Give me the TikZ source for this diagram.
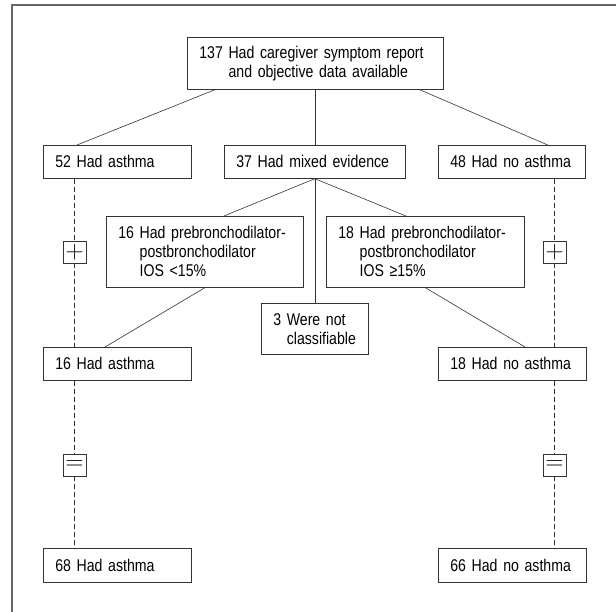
\documentclass[tikz,border=0pt]{standalone}
\usepackage{fontspec}
\setmainfont{Liberation Sans}[FakeStretch=0.83]
\newcommand{\numgap}[1]{\phantom{#1}\ }

\begin{document}
\begin{tikzpicture}[x=1pt, y=-1pt,
    flowbox/.style={draw=black!80, line width=0.7pt, rectangle, anchor=north west, align=left,
        inner xsep=12pt, inner ysep=0pt, font=\fontsize{17}{19}\selectfont},
    signbox/.style={draw=black!80, line width=0.6pt, minimum width=23pt, minimum height=22pt,
        inner sep=0pt, font=\fontsize{24}{24}\selectfont},
    link/.style={draw=black!80, line width=0.6pt},
    dashlink/.style={link, dash pattern=on 5pt off 3pt}]
    \useasboundingbox (0,0) rectangle (616,612);
    \draw[black!60, line width=1.5pt] (616,5) -- (12,5) -- (12,612);

    % ===== top and first split =====
    \node[flowbox, text width=232pt, minimum height=52pt] (report) at (187,37)
        {137 Had caregiver symptom report\\ \numgap{137}and objective data available};
    \node[flowbox, text width=124pt, minimum height=33pt] (asthA) at (43,145) {52 Had asthma};
    \node[flowbox, text width=157pt, minimum height=33pt] (mixed) at (224,145) {37 Had mixed evidence};
    \node[flowbox, text width=123pt, minimum height=33pt] (noasthA) at (438,145) {48 Had no asthma};

    \draw[link] ([xshift=28pt]report.south west) -- ([xshift=34pt]asthA.north west);
    \draw[link] (report.south -| mixed.north) -- (mixed.north);
    \draw[link] ([xshift=-24pt]report.south east) -- ([xshift=-38pt]noasthA.north east);

    % ===== mixed evidence =====
    \node[flowbox, text width=173pt, minimum height=71pt] (iosLow) at (106,216)
        {16 Had prebronchodilator-\\ \numgap{16}postbronchodilator\\ \numgap{16}IOS <15\%};
    \node[flowbox, text width=174pt, minimum height=71pt] (iosHigh) at (326,216)
        {18 Had prebronchodilator-\\ \numgap{18}postbronchodilator\\ \numgap{18}IOS ≥15\%};
    \node[flowbox, text width=83pt, minimum height=51pt] (unclass) at (261,303)
        {3 Were not\\ \numgap{3}classifiable};

    \draw[link] (mixed.south) -- ([xshift=118pt]iosLow.north west);
    \draw[link] (mixed.south) -- ([xshift=80pt]iosHigh.north west);
    \draw[link] (mixed.south) -- (mixed.south |- unclass.north);

    \node[flowbox, text width=124pt, minimum height=33pt] (asthB) at (43,347) {16 Had asthma};
    \node[flowbox, text width=124pt, minimum height=33pt] (noasthB) at (438,347) {18 Had no asthma};
    \draw[link] (iosLow.south) -- ([xshift=62pt]asthB.north west);
    \draw[link] (iosHigh.south) -- ([xshift=87pt]noasthB.north west);

    % ===== totals =====
    \node[flowbox, text width=124pt, minimum height=34pt] (asthC) at (43,548) {68 Had asthma};
    \node[flowbox, text width=124pt, minimum height=34pt] (noasthC) at (438,548) {66 Had no asthma};

    \node[signbox] (plusL) at (74.5,252) {$+$};
    \node[signbox] (plusR) at (554.5,252) {$+$};
    \node[signbox] (eqL) at (74.5,465) {$=$};
    \node[signbox] (eqR) at (554.5,465) {$=$};

    \draw[dashlink] (plusL |- asthA.south) -- (plusL.north);
    \draw[dashlink] (plusL.south) -- (plusL |- asthB.north);
    \draw[dashlink] (eqL |- asthB.south) -- (eqL.north);
    \draw[dashlink] (eqL.south) -- (eqL |- asthC.north);
    \draw[dashlink] (plusR |- noasthA.south) -- (plusR.north);
    \draw[dashlink] (plusR.south) -- (plusR |- noasthB.north);
    \draw[dashlink] (eqR |- noasthB.south) -- (eqR.north);
    \draw[dashlink] (eqR.south) -- (eqR |- noasthC.north);
\end{tikzpicture}
\end{document}
